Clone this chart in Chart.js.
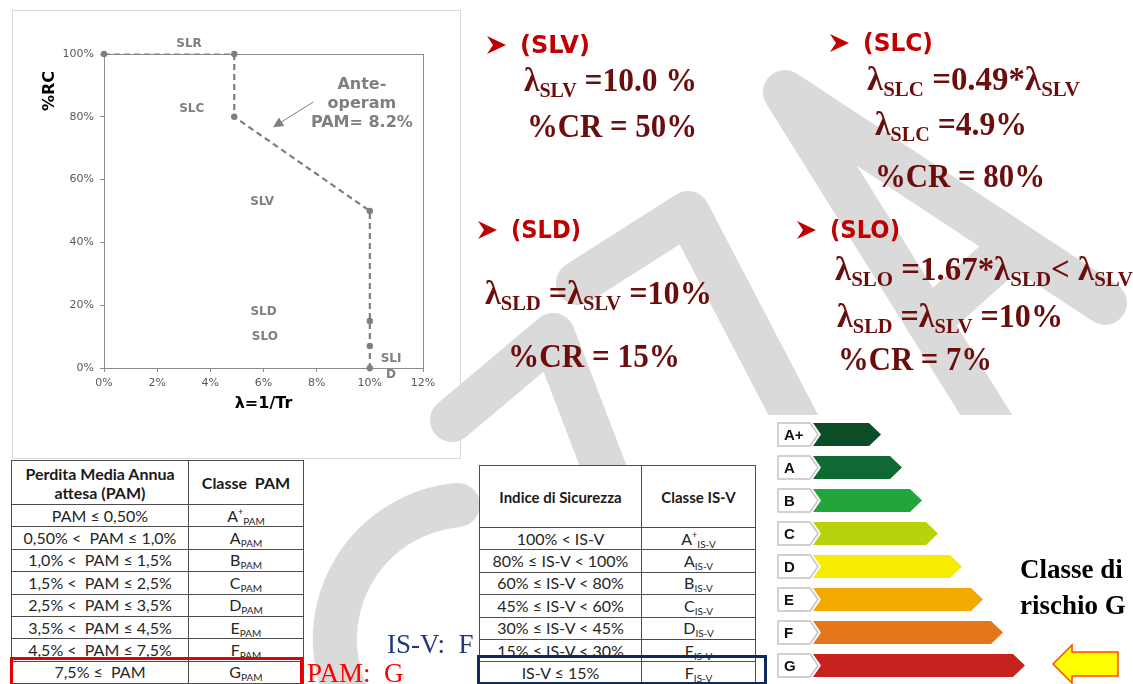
<!DOCTYPE html>
<html>
<head>
<meta charset="utf-8">
<script src="https://cdn.jsdelivr.net/npm/chart.js@4.4.1/dist/chart.umd.min.js"></script>
<style>
html, body { margin: 0; padding: 0; }
body { width: 1133px; height: 684px; position: relative; overflow: hidden; background: #fff; }
svg.layer { position: absolute; left: 0; top: 0; }
.frame { position: absolute; left: 12px; top: 10px; width: 447px; height: 447px; border: 1px solid #d9d9d9; }
#wrap { position: absolute; left: 12px; top: 10px; width: 448px; height: 448px; }
table { position: absolute; border-collapse: collapse; background: #fff; font-family: Lato, sans-serif; font-size: 16px; color: #262626; table-layout: fixed; }
td, th { border: 1px solid #4d4d4d; text-align: center; padding: 0; white-space: nowrap; }
th { font-weight: bold; color: #1a1a1a; }
td.r { height: 21.4px; line-height: 18px; }
td sub { font-size: 10px; line-height: 0; vertical-align: baseline; position: relative; top: 3px; }
td sup { font-size: 9px; line-height: 0; vertical-align: baseline; position: relative; top: -7px; }
#pam { left: 11px; top: 460px; width: 292px; }
#isv { left: 479px; top: 465px; width: 276px; }
.redbox { position: absolute; left: 10px; top: 657px; width: 287px; height: 40px; border: 3px solid #e30000; }
.bluebox { position: absolute; left: 477px; top: 655px; width: 284px; height: 24px; border: 3px solid #0d2b5e; }
</style>
</head>
<body>

<svg class="layer" width="1133" height="684">
  <g fill="none" stroke="#dadada" stroke-width="44" stroke-linecap="round" stroke-linejoin="round">
    <path d="M452 420 L553 335 L645 575"/>
    <path d="M458 505 A135 135 0 0 0 353 707"/>
    <path d="M578 283 L688 213 L835 495"/>
    <path d="M1105 303 L785 92 L1005 445"/>
    <path d="M928 322 L1015 244"/>
  </g>
</svg>

<div class="frame"></div>
<div id="wrap"><canvas id="riskchart" width="448" height="448"></canvas></div>

<svg class="layer" id="texts" width="1133" height="684"></svg>

<table id="pam"></table>
<table id="isv"></table>
<div class="redbox"></div>
<div class="bluebox"></div>

<svg class="layer" id="energy" width="1133" height="684"></svg>

<script>
// curve points: lambda = 1/Tr (%) and %RC
var lambdaPct = [0, 4.9, 4.9, 10, 10, 10, 10];
var rcPct = [100, 100, 80, 50, 15, 7, 0];
var xTickVals = [0, 2, 4, 6, 8, 10, 12];
var yTickVals = [0, 20, 40, 60, 80, 100];

// limit state names and where they sit (data units)
var stateNames = ['SLR', 'SLC', 'SLV', 'SLD', 'SLO', 'SLI', 'D'];
var stateAt = [[3.2, 103.2], [3.3, 82.5], [5.95, 52.8], [6.0, 17.8], [6.05, 9.8], [10.8, 2.8], [10.8, -2.3]];
var noteLines = ['Ante-', 'operam', 'PAM= 8.2%'];
var noteAt = [[9.7, 90.1], [9.7, 84.1], [9.7, 78.0]];
var noteArrow = [[7.87, 84.7], [6.36, 76.7]];

// tables
var pamRanges = ['PAM ≤ 0,50%', '0,50% <  PAM ≤ 1,0%', '1,0% <  PAM ≤ 1,5%', '1,5% <  PAM ≤ 2,5%',
	'2,5% <  PAM ≤ 3,5%', '3,5% <  PAM ≤ 4,5%', '4,5% <  PAM ≤ 7,5%', '7,5% ≤  PAM'];
var pamClasses = ['A+', 'A', 'B', 'C', 'D', 'E', 'F', 'G'];
var isvRanges = ['100% < IS-V', '80% ≤ IS-V < 100%', '60% ≤ IS-V < 80%', '45% ≤ IS-V < 60%',
	'30% ≤ IS-V < 45%', '15% ≤ IS-V < 30%', 'IS-V ≤ 15%'];
var isvClasses = ['A+', 'A', 'B', 'C', 'D', 'E', 'F'];

// energy-style class scale
var energyClasses = ['A+', 'A', 'B', 'C', 'D', 'E', 'F', 'G'];
var energyLen = [68, 89, 109, 125, 149, 170, 190, 212];
var energyColors = ['#0c4d27', '#0e6a32', '#22a53b', '#b8d30b', '#f6ec00', '#f2aa00', '#e4761c', '#c6231f'];

var grey = '#7f7f7f';

// box round the plot area
var framePlugin = {
	id: 'frame',
	beforeDatasetsDraw: function(chart) {
		var a = chart.chartArea, c = chart.ctx;
		c.save();
		c.strokeStyle = '#8c8c8c';
		c.lineWidth = 1;
		c.strokeRect(Math.round(a.left) + 0.5, Math.round(a.top) + 0.5, Math.round(a.right - a.left), Math.round(a.bottom - a.top));
		c.restore();
	}
};

// state labels, note and arrow, y title
var labelPlugin = {
	id: 'labels',
	afterDatasetsDraw: function(chart) {
		var c = chart.ctx, xs = chart.scales.x, ys = chart.scales.y;
		c.save();
		c.fillStyle = grey;
		c.textAlign = 'center';
		c.textBaseline = 'middle';
		c.font = 'bold 12px "DejaVu Sans"';
		stateNames.forEach(function(n, i) {
			c.fillText(n, xs.getPixelForValue(stateAt[i][0]), ys.getPixelForValue(stateAt[i][1]));
		});
		c.font = 'bold 16px "DejaVu Sans"';
		noteLines.forEach(function(t, i) {
			c.fillText(t, xs.getPixelForValue(noteAt[i][0]), ys.getPixelForValue(noteAt[i][1]));
		});
		var x0 = xs.getPixelForValue(noteArrow[0][0]), y0 = ys.getPixelForValue(noteArrow[0][1]);
		var x1 = xs.getPixelForValue(noteArrow[1][0]), y1 = ys.getPixelForValue(noteArrow[1][1]);
		var ang = Math.atan2(y1 - y0, x1 - x0);
		c.strokeStyle = grey;
		c.lineWidth = 1;
		c.beginPath();
		c.moveTo(x0, y0);
		c.lineTo(x1 - 8 * Math.cos(ang), y1 - 8 * Math.sin(ang));
		c.stroke();
		c.beginPath();
		c.moveTo(x1, y1);
		c.lineTo(x1 - 10 * Math.cos(ang) + 5 * Math.sin(ang), y1 - 10 * Math.sin(ang) - 5 * Math.cos(ang));
		c.lineTo(x1 - 10 * Math.cos(ang) - 5 * Math.sin(ang), y1 - 10 * Math.sin(ang) + 5 * Math.cos(ang));
		c.closePath();
		c.fill();
		// y axis title
		c.fillStyle = '#000';
		c.translate(38, 81);
		c.rotate(-Math.PI / 2);
		c.fillText('%RC', 0, 0);
		c.restore();
	}
};

var ctx = document.getElementById('riskchart').getContext('2d');
var riskchart = new Chart(ctx, {
	type: 'line',
	data: {
		datasets: [{
			data: lambdaPct.map(function(x, i) { return {x: x, y: rcPct[i]}; }),
			borderColor: grey,
			borderWidth: 2.2,
			borderDash: [6, 4],
			segment: { borderWidth: function(s) { return s.p0DataIndex === 0 ? 1.2 : 2.2; } },
			pointRadius: 3.2,
			pointBackgroundColor: grey,
			pointBorderWidth: 0,
			tension: 0,
			fill: false,
			clip: false
		}]
	},
	options: {
		responsive: false,
		animation: false,
		layout: { padding: { left: 0, top: 44, right: 37, bottom: 0 } },
		plugins: { legend: { display: false }, tooltip: { enabled: false } },
		scales: {
			x: {
				type: 'linear', min: 0, max: 12,
				afterBuildTicks: function(s) { s.ticks = xTickVals.map(function(v) { return {value: v}; }); },
				afterFit: function(s) { s.height = 90; },
				grid: { drawOnChartArea: false, tickLength: 4, color: '#8c8c8c' },
				border: { color: '#8c8c8c' },
				ticks: { callback: function(v) { return v + '%'; }, font: { family: 'DejaVu Sans', size: 11 }, color: '#595959', padding: 5, maxRotation: 0 },
				title: { display: true, text: 'λ=1/Tr', font: { family: 'DejaVu Sans', size: 16, weight: 'bold' }, color: '#000', padding: { top: 0, bottom: 45 } }
			},
			y: {
				type: 'linear', min: 0, max: 100,
				afterBuildTicks: function(s) { s.ticks = yTickVals.map(function(v) { return {value: v}; }); },
				afterFit: function(s) { s.width = 92; },
				grid: { drawOnChartArea: false, tickLength: 4, color: '#8c8c8c' },
				border: { color: '#8c8c8c' },
				ticks: { callback: function(v) { return v + '%'; }, font: { family: 'DejaVu Sans', size: 11 }, color: '#595959', padding: 6 }
			}
		}
	},
	plugins: [framePlugin, labelPlugin]
});

// slide texts
var T = 'font-family="Liberation Serif" font-weight="bold" fill="#6b0d0d" lengthAdjust="spacingAndGlyphs"';
function sub(s) { return '<tspan font-size="21" dy="6">' + s + '</tspan><tspan dy="-6"> </tspan>'; }
function lam(s) { return 'λ' + sub(s); }
function eq(x, y, w, body) { return '<text x="' + x + '" y="' + y + '" textLength="' + w + '" font-size="33" ' + T + ' xml:space="preserve">' + body + '</text>'; }
function head(x, cy, label) {
	return '<polygon points="' + x + ',' + (cy - 9) + ' ' + (x + 19) + ',' + cy + ' ' + x + ',' + (cy + 9) + ' ' + (x + 6) + ',' + cy + '" fill="#c00000"/>' +
		'<text x="' + (x + 33) + '" y="' + (cy + 8) + '" font-family="DejaVu Sans" font-weight="bold" font-size="24" fill="#c00000" textLength="70" lengthAdjust="spacingAndGlyphs">' + label + '</text>';
}
var t = '';
t += head(487, 45, '(SLV)');
t += eq(524, 91, 173, lam('SLV') + '=10.0 %');
t += eq(527, 137, 170, '%CR = 50%');
t += head(830, 43, '(SLC)');
t += eq(867, 90, 213, lam('SLC') + '=0.49*λ' + sub('SLV').replace('<tspan dy="-6"> </tspan>', ''));
t += eq(875, 135, 152, lam('SLC') + '=4.9%');
t += eq(875, 187, 170, '%CR = 80%');
t += head(478, 230, '(SLD)');
t += eq(485, 304, 227, lam('SLD') + '=' + lam('SLV') + '=10%');
t += eq(508, 367, 172, '%CR = 15%');
t += head(797, 230, '(SLO)');
t += eq(835, 280, 298, lam('SLO') + '=1.67*λ<tspan font-size="21" dy="6">SLD</tspan><tspan dy="-6">&lt; </tspan>λ<tspan font-size="21" dy="6">SLV</tspan>');
t += eq(837, 327, 226, lam('SLD') + '=' + lam('SLV') + '=10%');
t += eq(838, 370, 154, '%CR = 7%');
t += '<text x="387" y="653" font-family="Liberation Serif" font-size="27" fill="#1f3a78" xml:space="preserve">IS-V:  F</text>';
t += '<text x="307" y="682" font-family="Liberation Serif" font-size="27" fill="#ff0000" xml:space="preserve">PAM:  G</text>';
document.getElementById('texts').innerHTML = t;

// tables
function cls(c, s) {
	var base = c.charAt(0), plus = c.length > 1 ? '<sup>+</sup>' : '';
	return base + plus + '<sub>' + s + '</sub>';
}
var h = '<colgroup><col style="width:177px"><col style="width:115px"></colgroup>';
h += '<tr><th style="height:43px;line-height:19px">Perdita Media Annua<br>attesa (PAM)</th><th>Classe&nbsp; PAM</th></tr>';
pamRanges.forEach(function(r, i) {
	h += '<tr><td class="r">' + r.replace(/  /g, '&nbsp; ') + '</td><td class="r">' + cls(pamClasses[i], 'PAM') + '</td></tr>';
});
document.getElementById('pam').innerHTML = h;

h = '<colgroup><col style="width:162px"><col style="width:114px"></colgroup>';
h += '<tr><th style="height:61px;font-size:15px">Indice di Sicurezza</th><th style="font-size:15px">Classe IS-V</th></tr>';
isvRanges.forEach(function(r, i) {
	h += '<tr><td class="r">' + r + '</td><td class="r">' + cls(isvClasses[i], 'IS-V') + '</td></tr>';
});
document.getElementById('isv').innerHTML = h;

// energy class arrows
var e = '<rect x="767" y="415" width="270" height="269" fill="#fff"/>';
energyClasses.forEach(function(c, i) {
	var top = 423 + i * 33, bh = 23, mid = top + bh / 2, end = 813 + energyLen[i];
	e += '<polygon points="778,' + top + ' 810,' + top + ' 818,' + mid + ' 810,' + (top + bh) + ' 778,' + (top + bh) + '" fill="#fff" stroke="#c4c4c4" stroke-width="1.5"/>';
	e += '<text x="784" y="' + (mid + 5.5) + '" font-family="Liberation Sans" font-weight="bold" font-size="15" fill="#111">' + c + '</text>';
	e += '<polygon points="813,' + top + ' ' + (end - 12) + ',' + top + ' ' + end + ',' + mid + ' ' + (end - 12) + ',' + (top + bh) + ' 813,' + (top + bh) + ' 821,' + mid + '" fill="' + energyColors[i] + '"/>';
});
e += '<text font-family="Liberation Serif" font-weight="bold" font-size="27" fill="#000"><tspan x="1020" y="578">Classe di</tspan><tspan x="1020" y="614">rischio G</tspan></text>';
e += '<polygon points="1053,664 1072,645 1072,652 1118,652 1118,676 1072,676 1072,683" fill="#ffff00" stroke="#ff4a00" stroke-width="1.5"/>';
document.getElementById('energy').innerHTML = e;
</script>
</body>
</html>
